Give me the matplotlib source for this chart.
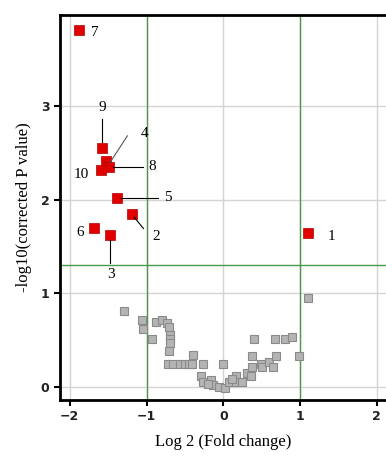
import matplotlib
matplotlib.use("Agg")
import matplotlib.pyplot as plt

# significant genes (red)
sig_x = [1.11, -1.19, -1.48, -1.53, -1.38, -1.68, -1.88, -1.49, -1.58, -1.60]
sig_y = [1.64, 1.85, 1.62, 2.41, 2.02, 1.70, 3.81, 2.35, 2.55, 2.31]
sig_lab = ["1", "2", "3", "4", "5", "6", "7", "8", "9", "10"]

# non significant genes (grey)
ns_x = [-1.29, -1.06, -1.04, -0.93, -0.88, -0.80, -0.74, -0.71, -0.70, -0.69,
        -0.70, -0.71, -0.40, -0.72, -0.65, -0.57, -0.50, -0.45, -0.41, -0.26,
        -0.01, -0.29, -0.27, -0.16, -0.14, -0.05, 0.02, 0.08, 0.16, 0.16,
        0.25, 0.31, 0.36, 0.38, 0.37, 0.40, 0.49, 0.51, 0.59, 0.65,
        0.69, 0.68, 0.81, 0.89, 0.98, 1.11, -0.20, 0.11]
ns_y = [0.81, 0.71, 0.62, 0.51, 0.69, 0.71, 0.68, 0.64, 0.55, 0.51,
        0.47, 0.38, 0.34, 0.24, 0.24, 0.24, 0.24, 0.24, 0.24, 0.24,
        0.24, 0.11, 0.05, 0.07, 0.02, 0.00, -0.01, 0.05, 0.11, 0.05,
        0.05, 0.15, 0.11, 0.21, 0.33, 0.51, 0.24, 0.21, 0.26, 0.21,
        0.33, 0.51, 0.51, 0.53, 0.33, 0.95, 0.03, 0.08]

# label position for each red point, and whether it gets a leader line
lab_pos = {
    "1": (1.36, 1.60, False),
    "2": (-0.92, 1.60, True),
    "3": (-1.46, 1.20, True),
    "4": (-1.08, 2.70, True),
    "5": (-0.77, 2.02, True),
    "6": (-1.92, 1.65, False),
    "7": (-1.73, 3.78, False),
    "8": (-0.97, 2.35, True),
    "9": (-1.58, 2.98, True),
    "10": (-1.95, 2.27, False),
}

fig = plt.figure(figsize=(3.86, 4.58), dpi=100)
ax = fig.add_axes([0.155, 0.127, 0.845, 0.84])

ax.grid(True, color="#d4d4d4", lw=1)
ax.set_axisbelow(True)

ax.axvline(-1, color="#4a9a4a", lw=1)
ax.axvline(1, color="#4a9a4a", lw=1)
ax.axhline(1.3, color="#4a9a4a", lw=1)

ax.plot(ns_x, ns_y, "s", ms=6, color="#b4b4b4", mec="#8a8a8a", mew=0.8, ls="none")
ax.plot(sig_x, sig_y, "s", ms=6.5, color="#e00000", mec="#b00000", mew=0.5, ls="none")

for x, y, lab in zip(sig_x, sig_y, sig_lab):
    tx, ty, line = lab_pos[lab]
    if line:
        if lab == "3":
            ax.plot([x, x], [y - 0.05, ty + 0.12], color="black", lw=0.8)
        elif lab == "9":
            ax.plot([x, x], [y + 0.06, ty - 0.12], color="black", lw=0.8)
        elif lab == "2":
            ax.plot([x + 0.03, tx - 0.12], [y - 0.04, ty + 0.09], color="black", lw=0.8)
        elif lab == "4":
            ax.plot([x + 0.05, tx - 0.17], [y - 0.02, ty - 0.02], color="#555555", lw=0.8)
        else:
            ax.plot([x + 0.05, tx - 0.08], [y, ty], color="black", lw=0.8)
    ax.text(tx, ty, lab, fontsize=11, family="Liberation Serif",
            ha="center" if line and lab in ("3", "9") else "left", va="center")

ax.set_xlim(-2.13, 2.12)
ax.set_ylim(-0.14, 3.97)
ax.set_xticks([-2, -1, 0, 1, 2])
ax.set_yticks([0, 1, 2, 3])
ax.tick_params(labelsize=9, length=4, width=1.5, direction="out")
for lbl in ax.get_xticklabels() + ax.get_yticklabels():
    lbl.set_fontweight("bold")
    lbl.set_color("#222222")

for s in ["left", "bottom", "top"]:
    ax.spines[s].set_linewidth(2)
ax.spines["right"].set_visible(False)

ax.set_xlabel("Log 2 (Fold change)", fontsize=12, family="Liberation Serif", labelpad=8)
ax.set_ylabel("-log10(corrected P value)", fontsize=12, family="Liberation Serif", labelpad=6)

fig.savefig("out.png", dpi=100)
